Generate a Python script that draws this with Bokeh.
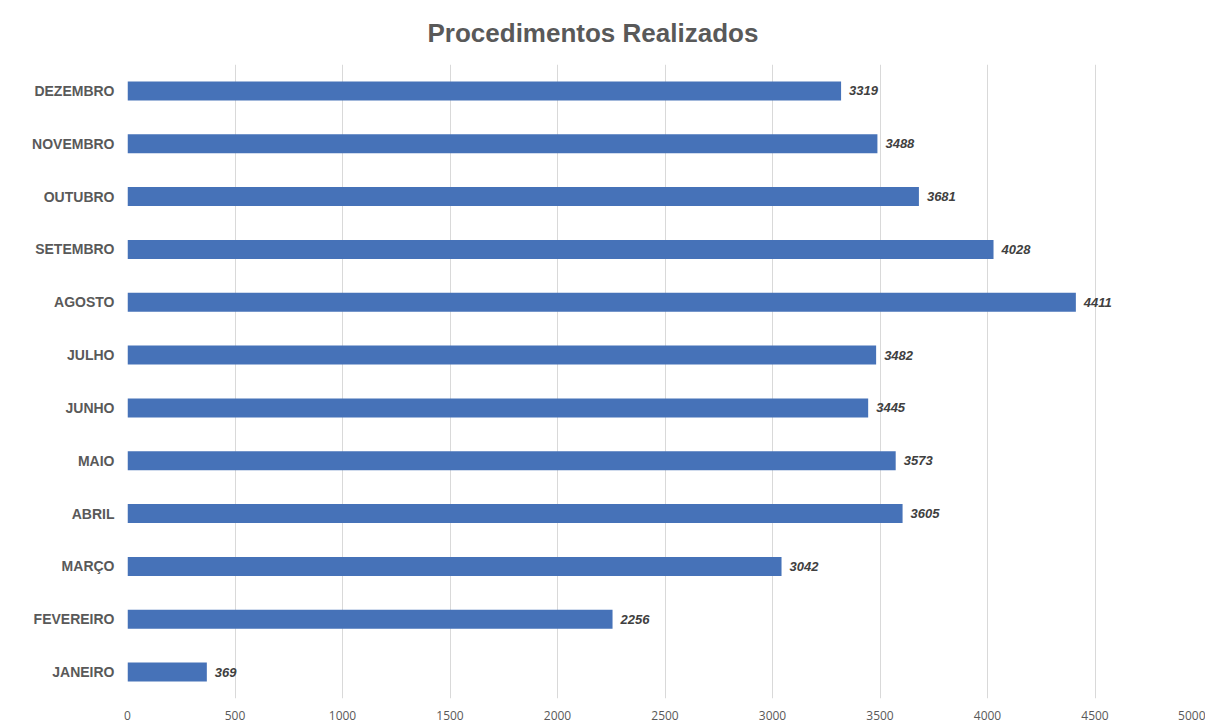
from bokeh.plotting import figure
from bokeh.models import ColumnDataSource, FactorRange, Range1d, FixedTicker, Title
from bokeh.core.properties import value
from bokeh.embed import file_html
from bokeh.resources import INLINE

months = ["JANEIRO", "FEVEREIRO", "MARÇO", "ABRIL", "MAIO", "JUNHO",
          "JULHO", "AGOSTO", "SETEMBRO", "OUTUBRO", "NOVEMBRO", "DEZEMBRO"]
counts = [369, 2256, 3042, 3605, 3573, 3445, 3482, 4411, 4028, 3681, 3488, 3319]
x_ticks = [0, 500, 1000, 1500, 2000, 2500, 3000, 3500, 4000, 4500, 5000]
title_text = "Procedimentos Realizados"

src = ColumnDataSource(dict(month=months, count=counts, label=[str(c) for c in counts]))

p = figure(width=1205, height=722, output_backend="svg", toolbar_location=None,
           y_range=FactorRange(factors=months), x_range=Range1d(0, 5000),
           min_border_left=127, min_border_right=3, min_border_top=64, min_border_bottom=20)

p.title = Title(text=title_text, align="left", offset=300,
                vertical_align="top",
                text_font="Liberation Sans", text_font_size="26px",
                text_font_style="bold", text_color="#595959", standoff=30)

p.hbar(y="month", right="count", left=0, height=0.36, source=src,
       fill_color="#4672B8", line_color=None)

p.text(x="count", y="month", text="label", source=src, x_offset=8,
       text_baseline="middle", text_align="left",
       text_font=value("Liberation Sans"), text_font_size="13px",
       text_font_style="bold italic", text_color="#404040")

p.outline_line_color = None
p.background_fill_color = "white"
p.border_fill_color = "white"

p.ygrid.grid_line_color = None
p.xgrid.grid_line_color = "#d9d9d9"
p.xgrid.grid_line_width = 1
p.xaxis.ticker = FixedTicker(ticks=x_ticks)

for ax in (p.xaxis[0], p.yaxis[0]):
    ax.axis_line_color = None
    ax.major_tick_line_color = None
    ax.minor_tick_line_color = None

p.xaxis.major_label_text_font = "Open Sans"
p.xaxis.major_label_text_font_size = "12px"
p.xaxis.major_label_text_color = "#595959"
p.xaxis.major_label_standoff = 6

p.yaxis.major_label_text_font = "Liberation Sans"
p.yaxis.major_label_text_font_size = "14px"
p.yaxis.major_label_text_font_style = "bold"
p.yaxis.major_label_text_color = "#595959"
p.yaxis.major_label_standoff = 7

open("out.html", "w").write(file_html(p, INLINE))
